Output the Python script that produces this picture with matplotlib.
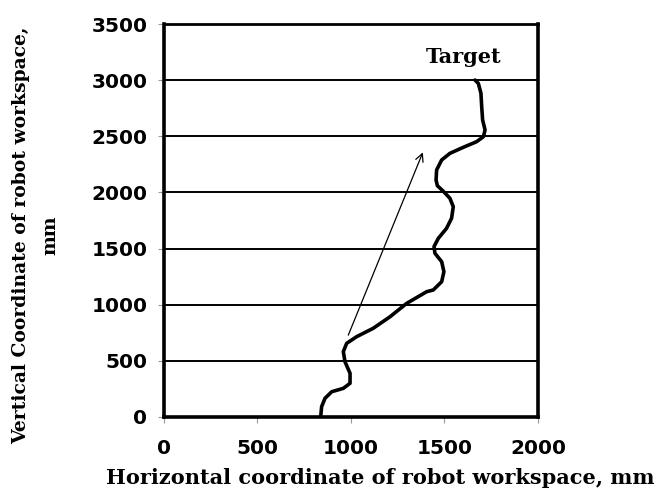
import matplotlib
matplotlib.use('Agg')
import matplotlib.pyplot as plt

# path of the robot (bottom to top)
path_x = [838, 843, 861, 897, 959, 995, 995, 968, 959, 977, 1030, 1119, 1209, 1298,
          1405, 1440, 1485, 1497, 1485, 1449, 1444, 1467, 1511, 1538, 1547, 1529,
          1494, 1462, 1455, 1458, 1485, 1529, 1601, 1672, 1708, 1717, 1704, 1699,
          1695, 1681, 1663]
path_y = [0, 92, 166, 225, 255, 300, 389, 492, 582, 656, 715, 790, 893, 1012,
          1116, 1131, 1205, 1294, 1383, 1458, 1517, 1591, 1680, 1770, 1873, 1948,
          2010, 2060, 2110, 2200, 2289, 2348, 2402, 2452, 2496, 2556, 2645, 2764,
          2883, 2971, 3001]

arrow_start = (980, 706)
arrow_end = (1390, 2380)
target_label = 'Target'
target_pos = (1603, 3208)

x_ticks = [0, 500, 1000, 1500, 2000]
y_ticks = [0, 500, 1000, 1500, 2000, 2500, 3000, 3500]

fig = plt.figure(figsize=(6.58, 4.97), dpi=100)
ax = fig.add_axes([0.2492, 0.161, 0.5684, 0.7907])

ax.plot(path_x, path_y, color='black', lw=2.6, solid_capstyle='round',
        solid_joinstyle='round')
ax.annotate('', xy=arrow_end, xytext=arrow_start,
            arrowprops=dict(arrowstyle='->', color='black', lw=0.9, mutation_scale=14))
ax.text(target_pos[0], target_pos[1], target_label, ha='center', va='center',
        fontsize=15, fontweight='bold', family='DejaVu Serif')

ax.set_xlim(0, 2000)
ax.set_ylim(0, 3500)
ax.set_xticks(x_ticks)
ax.set_yticks(y_ticks)
ax.yaxis.grid(True, color='black', lw=1.4)
ax.set_axisbelow(True)
ax.tick_params(direction='out', length=4, width=0.8, color='#999999', pad=8)
for lab in ax.get_xticklabels() + ax.get_yticklabels():
    lab.set_fontsize(14.5)
    lab.set_fontweight('bold')
    lab.set_family('DejaVu Sans')
ax.tick_params(axis='x', pad=12)

for side in ['left', 'bottom', 'right']:
    ax.spines[side].set_linewidth(2.6)
ax.spines['top'].set_linewidth(2.0)

fig.text(0.578, 0.038, 'Horizontal coordinate of robot workspace, mm', ha='center', va='center',
         fontsize=15, fontweight='bold', family='DejaVu Serif')
fig.text(0.055, 0.527, 'Vertical Coordinate of robot workspace,\nmm', ha='center', va='center',
         rotation=90, fontsize=13.5, fontweight='bold', family='DejaVu Serif', linespacing=1.8)

fig.savefig('out.png', dpi=100)
